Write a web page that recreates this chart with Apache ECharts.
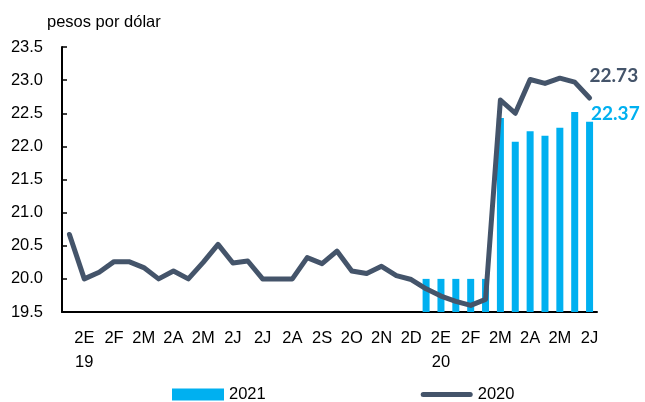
<!DOCTYPE html>
<html>
<head>
<meta charset="utf-8">
<script src="https://cdn.jsdelivr.net/npm/echarts@6/dist/echarts.min.js"></script>
<style>
  html, body { margin: 0; padding: 0; background: #fff; }
  #chart-container { width: 645px; height: 402px; }
</style>
</head>
<body>
<div id="chart-container"></div>
<script>
var dom = document.getElementById('chart-container');
var myChart = echarts.init(dom, null, { renderer: 'canvas' });

// quincenas: 1 = primera, 2 = segunda
const categories = [
  '1E 19', '2E 19', '1F 19', '2F 19', '1M 19', '2M 19', '1A 19', '2A 19',
  '1M 19', '2M 19', '1J 19', '2J 19', '1J 19', '2J 19', '1A 19', '2A 19',
  '1S 19', '2S 19', '1O 19', '2O 19', '1N 19', '2N 19', '1D 19', '2D 19',
  '1E 20', '2E 20', '1F 20', '2F 20', '1M 20', '2M 20', '1A 20', '2A 20',
  '1M 20', '2M 20', '1J 20', '2J 20'
];

// tipo de cambio 2020 (línea)
const line2020 = [
  20.67, 20.00, 20.10, 20.26, 20.26, 20.17, 20.00, 20.12,
  20.00, 20.25, 20.52, 20.24, 20.27, 20.00, 20.00, 20.00,
  20.32, 20.23, 20.42, 20.12, 20.08, 20.19, 20.05, 19.99,
  19.85, 19.74, 19.66, 19.60, 19.69, 22.70, 22.50, 23.01,
  22.95, 23.03, 22.97, 22.73
];

// tipo de cambio 2021 (barras)
const bars2021 = [
  null, null, null, null, null, null, null, null,
  null, null, null, null, null, null, null, null,
  null, null, null, null, null, null, null, null,
  20.00, 20.00, 20.00, 20.00, 20.00, 22.43, 22.07, 22.23,
  22.16, 22.28, 22.52, 22.37
];

const LINE_COLOR = '#44546a';
const BAR_COLOR = '#00b0f0';
const FONT = 'Liberation Sans, Arial, sans-serif';

const barData = bars2021.map(function (v, i) {
  if (i === bars2021.length - 1) {
    return {
      value: v,
      label: {
        show: true,
        position: [5, -17],
        formatter: '22.37',
        color: BAR_COLOR,
        fontFamily: 'Lato',
        fontWeight: 'bold',
        fontSize: 19
      }
    };
  }
  return v;
});

var option = {
  animation: false,
  title: {
    text: 'pesos por dólar',
    left: 42,
    top: 9,
    textStyle: { fontFamily: FONT, fontSize: 16.5, fontWeight: 'normal', color: '#000' }
  },
  grid: { left: 62, right: 48, top: 47, bottom: 90 },
  legend: {
    left: 167,
    top: 381,
    itemWidth: 52,
    itemHeight: 12,
    itemGap: 155,
    symbolKeepAspect: true,
    textStyle: { fontFamily: FONT, fontSize: 16.5, color: '#000' },
    data: [
      { name: '2021', icon: 'rect' },
      { name: '2020', icon: 'path://M2.5,0 L49.5,0 A2.5,2.5 0 0 1 49.5,5 L2.5,5 A2.5,2.5 0 0 1 2.5,0 Z' }
    ]
  },
  xAxis: {
    type: 'category',
    data: categories,
    boundaryGap: true,
    axisLine: { lineStyle: { color: '#000', width: 2 } },
    axisTick: { inside: true, length: 6, interval: 0, lineStyle: { color: '#000', width: 1.5 } },
    axisLabel: {
      interval: function (index) { return index % 2 === 1; },
      formatter: function (value) {
        var parts = value.split(' ');
        return parts[0][1] === 'E' ? parts[0] + '\n' + parts[1] : parts[0];
      },
      margin: 14,
      lineHeight: 24,
      fontFamily: FONT,
      fontSize: 16.5,
      color: '#000'
    },
    splitLine: { show: false }
  },
  yAxis: {
    type: 'value',
    min: 19.5,
    max: 23.5,
    interval: 0.5,
    axisLine: { show: true, lineStyle: { color: '#000', width: 2 } },
    axisTick: { show: true, inside: true, length: 5, lineStyle: { color: '#000', width: 1.5 } },
    axisLabel: {
      formatter: function (v) { return v.toFixed(1); },
      margin: 19,
      fontFamily: FONT,
      fontSize: 16.5,
      color: '#000'
    },
    splitLine: { show: false }
  },
  series: [
    {
      name: '2021',
      type: 'bar',
      data: barData,
      barWidth: 7,
      itemStyle: { color: BAR_COLOR }
    },
    {
      name: '2020',
      type: 'line',
      data: line2020,
      symbol: 'none',
      itemStyle: { color: LINE_COLOR },
      lineStyle: { color: LINE_COLOR, width: 5, join: 'round', cap: 'round' },
      endLabel: {
        show: true,
        formatter: '22.73',
        offset: [-8, -22],
        color: LINE_COLOR,
        fontFamily: 'Lato',
        fontWeight: 'bold',
        fontSize: 19
      },
      z: 3
    }
  ]
};

myChart.setOption(option);
window.addEventListener('resize', myChart.resize);
</script>
</body>
</html>
